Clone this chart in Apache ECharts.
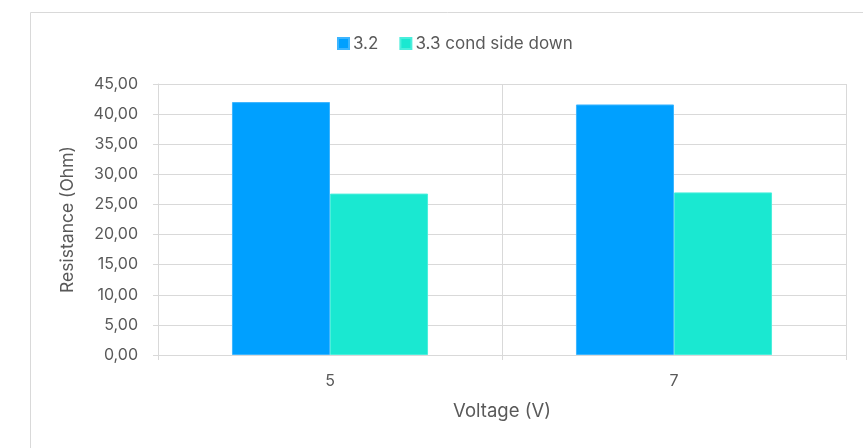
<!DOCTYPE html>
<html>
<head>
<meta charset="utf-8">
<script src="https://cdn.jsdelivr.net/npm/echarts@6/dist/echarts.min.js"></script>
<style>html,body{margin:0;padding:0;background:#fff}#c{width:863px;height:448px}</style>
</head>
<body>
<div id="c"></div>
<script>
var categories = ['5', '7'];
var seriesNames = ['3.2', '3.3 cond side down'];
var values32 = [42.0, 41.6];
var values33 = [26.8, 27.0];
var yMin = 0, yMax = 45, yStep = 5;

var chart = echarts.init(document.getElementById('c'));
var font = 'Inter, Roboto, "Liberation Sans", sans-serif';
var txt = '#595959';
chart.setOption({
  animation: false,
  textStyle: { fontFamily: font },
  graphic: [{
    type: 'rect', silent: true,
    shape: { x: 30.5, y: 12.5, width: 900, height: 500 },
    style: { fill: 'none', stroke: '#D9D9D9', lineWidth: 1 }
  }],
  legend: {
    data: seriesNames,
    top: 30, left: 332,
    itemWidth: 11, itemHeight: 11, itemGap: 21, icon: 'rect',
    textStyle: { color: txt, fontSize: 17, fontFamily: font, padding: [0, 0, 0, -1] }
  },
  grid: { left: 158, right: 17, top: 84, bottom: 93, containLabel: false },
  xAxis: {
    type: 'category', data: categories,
    name: 'Voltage (V)', nameLocation: 'middle', nameGap: 47,
    nameTextStyle: { color: txt, fontSize: 18.5, fontFamily: font },
    axisLine: { show: true, lineStyle: { color: '#D9D9D9', width: 1 } },
    axisTick: { show: true, alignWithLabel: false, length: 5, lineStyle: { color: '#D9D9D9' } },
    splitLine: { show: true, lineStyle: { color: '#D9D9D9', width: 1 } },
    axisLabel: { color: txt, fontSize: 16, margin: 18, fontFamily: font }
  },
  yAxis: {
    type: 'value', min: yMin, max: yMax, interval: yStep,
    name: 'Resistance (Ohm)', nameLocation: 'middle', nameGap: 81, nameRotate: 90,
    nameTextStyle: { color: txt, fontSize: 17.5, fontFamily: font },
    axisLine: { show: true, lineStyle: { color: '#D9D9D9', width: 1 } },
    axisTick: { show: true, length: 5, lineStyle: { color: '#D9D9D9' } },
    splitLine: { show: true, lineStyle: { color: '#D9D9D9', width: 1 } },
    axisLabel: { color: txt, fontSize: 16, margin: 20, fontFamily: font,
      formatter: function (v) { return v.toFixed(2).replace('.', ','); } }
  },
  series: [
    { name: seriesNames[0], type: 'bar', data: values32, barGap: '0%', barCategoryGap: '43%',
      itemStyle: { color: '#00A0FF', borderColor: '#3DB5FF', borderWidth: 1 } },
    { name: seriesNames[1], type: 'bar', data: values33, barGap: '0%', barCategoryGap: '43%',
      itemStyle: { color: '#1AE8D1', borderColor: '#4BEEDC', borderWidth: 1 } }
  ]
});
</script>
</body>
</html>
